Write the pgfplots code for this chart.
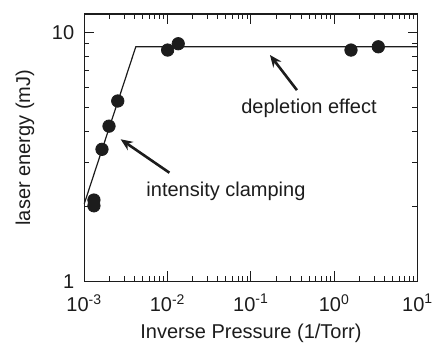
\documentclass[border=0pt]{standalone}
\usepackage{fontspec}
\setmainfont{Liberation Sans}
\usepackage{pgfplots}
\pgfplotsset{compat=1.18}
\usetikzlibrary{arrows.meta}
\definecolor{ink}{HTML}{1C1C1C}
\begin{document}
\begin{tikzpicture}
\begin{axis}[
  xmode=log, ymode=log,
  scale only axis, width=166.7pt, height=133.65pt,
  xmin=1e-3, xmax=10, ymin=1, ymax=11.85,
  xtick={1e-3,1e-2,1e-1,1,10},
  xticklabels={10\textsuperscript{-3},10\textsuperscript{-2},10\textsuperscript{-1},10\textsuperscript{0},10\textsuperscript{1}},
  ytick={1,10}, yticklabels={1,10},
  minor ytick={2,3,4,5,6,7,8,9},
  tick align=inside, major tick length=5pt, minor tick length=2.6pt,
  axis line style={ink, line width=0.6pt},
  tick style={ink, line width=0.5pt},
  every tick label/.append style={font=\fontsize{10}{12}\selectfont, text=ink},
  yticklabel style={xshift=-1.5pt},
  xticklabel style={yshift=-3pt},
  label style={font=\fontsize{10}{12}\selectfont, text=ink},
  xlabel={Inverse Pressure (1/Torr)},
  ylabel={laser energy (mJ)},
  xlabel style={at={(axis description cs:0.5,-0.1934)}, anchor=center},
  ylabel style={at={(axis description cs:-0.1779,0.5)}, anchor=center},
  clip=false,
]
\addplot[ink, line width=0.6pt] coordinates {(1e-3,2.05) (4.15e-3,8.75) (10,8.75)};
\addplot[only marks, mark=*, mark size=3.1pt, ink] coordinates {
  (1.305e-3,2.12) (1.305e-3,2.01) (1.63e-3,3.39) (1.98e-3,4.2) (2.52e-3,5.3)
  (0.01,8.49) (0.0134,9.0) (1.585,8.49) (3.37,8.75)};
\draw[ink, line width=1.3pt, -{Stealth[length=6pt,width=5pt]}] (axis cs:0.0105,2.73) -- (axis cs:2.73e-3,3.72);
\draw[ink, line width=1.3pt, -{Stealth[length=6pt,width=5pt]}] (axis cs:0.356,5.86) -- (axis cs:0.169,8.11);
\node[ink, inner sep=0pt, font=\fontsize{10}{12}\selectfont] at (axis cs:0.0501,2.29) {intensity clamping};
\node[ink, inner sep=0pt, font=\fontsize{10}{12}\selectfont] at (axis cs:0.497,4.95) {depletion effect};
\end{axis}
\pgfresetboundingbox
\path (-42.15pt,-36.35pt) rectangle (177.85pt,140.65pt);
\end{tikzpicture}
\end{document}
